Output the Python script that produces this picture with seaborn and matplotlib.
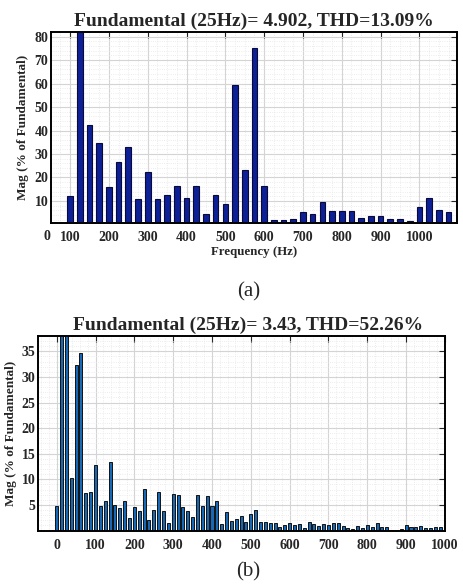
import numpy as np
import pandas as pd
import matplotlib
matplotlib.use('Agg')
import matplotlib.pyplot as plt
from matplotlib.ticker import AutoMinorLocator
import seaborn as sns

# datos espectro (a)
freq_a = [100, 125, 150, 175, 200, 225, 250, 275, 300, 325,
          350, 375, 400, 425, 450, 475, 500, 525, 550, 575,
          600, 625, 650, 675, 700, 725, 750, 775, 800, 825,
          850, 875, 900, 925, 950, 975, 1000, 1025, 1050, 1075]
mag_a = [12.0, 90.0, 42.5, 34.5, 15.8, 26.5, 33.0, 10.9, 22.2, 10.7,
         12.7, 16.5, 11.4, 16.3, 4.6, 12.6, 8.8, 59.5, 23.2, 75.0,
         16.5, 2.0, 1.9, 2.3, 5.3, 4.3, 9.4, 5.9, 5.9, 5.9,
         2.9, 3.6, 3.7, 2.4, 2.2, 1.3, 7.3, 11.3, 6.0, 5.3]
xticks_a = [100, 200, 300, 400, 500, 600, 700, 800, 900, 1000]
yticks_a = [10, 20, 30, 40, 50, 60, 70, 80]

# datos espectro (b)
freq_b = [0, 12.5, 25, 37.5, 50, 62.5, 75, 87.5, 100, 112.5,
          125, 137.5, 150, 162.5, 175, 187.5, 200, 212.5, 225, 237.5,
          250, 262.5, 275, 287.5, 300, 312.5, 325, 337.5, 350, 362.5,
          375, 387.5, 400, 412.5, 425, 437.5, 450, 462.5, 475, 487.5,
          500, 512.5, 525, 537.5, 550, 562.5, 575, 587.5, 600, 612.5,
          625, 637.5, 650, 662.5, 675, 687.5, 700, 712.5, 725, 737.5,
          750, 762.5, 775, 787.5, 800, 812.5, 825, 837.5, 850, 862.5,
          875, 887.5, 900, 912.5, 925, 937.5, 950, 962.5, 975, 987.5]
mag_b = [4.8, 60.0, 100.0, 10.2, 32.3, 34.6, 7.4, 7.6, 12.7, 4.8,
         5.8, 13.4, 5.0, 4.3, 5.8, 2.4, 4.6, 3.8, 8.1, 2.1,
         4.1, 7.6, 3.9, 1.5, 7.2, 6.9, 4.6, 3.9, 2.6, 7.0,
         4.7, 6.8, 4.7, 5.7, 1.3, 3.7, 1.9, 2.2, 2.8, 1.7,
         3.3, 4.0, 1.7, 1.7, 1.5, 1.5, 0.7, 1.1, 1.5, 1.1,
         1.3, 0.5, 1.6, 1.3, 0.8, 1.2, 1.1, 1.4, 1.4, 0.9,
         0.4, 0.2, 0.8, 0.4, 1.1, 0.7, 1.5, 0.6, 0.6, 0.15,
         0.15, 0.3, 1.1, 0.6, 0.7, 0.9, 0.5, 0.5, 0.6, 0.6]
xticks_b = [0, 100, 200, 300, 400, 500, 600, 700, 800, 900, 1000]
yticks_b = [5, 10, 15, 20, 25, 30, 35]

df_a = pd.DataFrame({'freq': freq_a, 'mag': mag_a})
df_b = pd.DataFrame({'freq': freq_b, 'mag': mag_b})

sns.set_style('white')
plt.rcParams['font.family'] = ['Liberation Serif', 'DejaVu Serif']
plt.rcParams['font.weight'] = 'bold'

fig = plt.figure(figsize=(4.64, 5.86), dpi=100)
ax1 = fig.add_axes([0.110, 0.6195, 0.875, 0.326])
ax2 = fig.add_axes([0.082, 0.0947, 0.877, 0.332])


def estilo(ax):
    ax.grid(which='major', color='#d4d4d4', lw=0.8)
    ax.grid(which='minor', color='#e6e6e6', lw=0.6, ls=':')
    ax.set_axisbelow(True)
    ax.tick_params(which='major', direction='in', top=True, right=True,
                   length=4, width=0.8, labelsize=10)
    ax.tick_params(axis='x', which='major', pad=6)
    ax.tick_params(axis='y', which='major', pad=2)
    ax.tick_params(which='minor', length=0)
    for s in ax.spines.values():
        s.set_color('black')
        s.set_linewidth(1.4)
    for lab in ax.get_xticklabels() + ax.get_yticklabels():
        lab.set_fontweight('bold')


# grafico (a)
sns.barplot(data=df_a, x='freq', y='mag', native_scale=True, width=0.58,
            color='#0d2096', edgecolor='#0a0a3a', linewidth=0.8,
            saturation=1, ax=ax1)
ax1.set_xlim(51, 1097)
ax1.set_ylim(0.6, 82)
ax1.set_xticks(xticks_a)
ax1.set_xticklabels([str(t) for t in xticks_a])
ax1.set_yticks(yticks_a)
ax1.xaxis.set_minor_locator(AutoMinorLocator(4))
ax1.yaxis.set_minor_locator(AutoMinorLocator(5))
estilo(ax1)
ax1.text(40, -0.035, '0', transform=ax1.get_xaxis_transform(), ha='center',
         va='top', fontsize=10, fontweight='bold', clip_on=False)
ax1.set_title('Fundamental (25Hz)= 4.902, THD=13.09%', fontsize=14,
              fontweight='bold', pad=4)
ax1.set_xlabel('Frequency (Hz)', fontsize=9.3, fontweight='bold', labelpad=1)
ax1.set_ylabel('Mag (% of Fundamental)', fontsize=9.5, fontweight='bold',
               labelpad=4)

# grafico (b)
sns.barplot(data=df_b, x='freq', y='mag', native_scale=True, width=0.62,
            color='#1769b8', edgecolor='#111111', linewidth=0.7,
            saturation=1, ax=ax2)
ax2.set_xlim(-48, 1000)
ax2.set_ylim(0, 38)
ax2.set_xticks(xticks_b)
ax2.set_xticklabels([str(t) for t in xticks_b])
ax2.set_yticks(yticks_b)
ax2.xaxis.set_minor_locator(AutoMinorLocator(5))
ax2.yaxis.set_minor_locator(AutoMinorLocator(5))
estilo(ax2)
ax2.set_title('Fundamental (25Hz)= 3.43, THD=52.26%', fontsize=14,
              fontweight='bold', pad=4, x=0.517)
ax2.set_xlabel('')
ax2.set_ylabel('Mag (% of Fundamental)', fontsize=9.5, fontweight='bold',
               labelpad=3)

fig.text(0.535, 0.502, '(a)', ha='center', va='center', fontsize=15,
         fontweight='normal')
fig.text(0.535, 0.024, '(b)', ha='center', va='center', fontsize=15,
         fontweight='normal')

fig.savefig('out.png', dpi=100, facecolor='white')
